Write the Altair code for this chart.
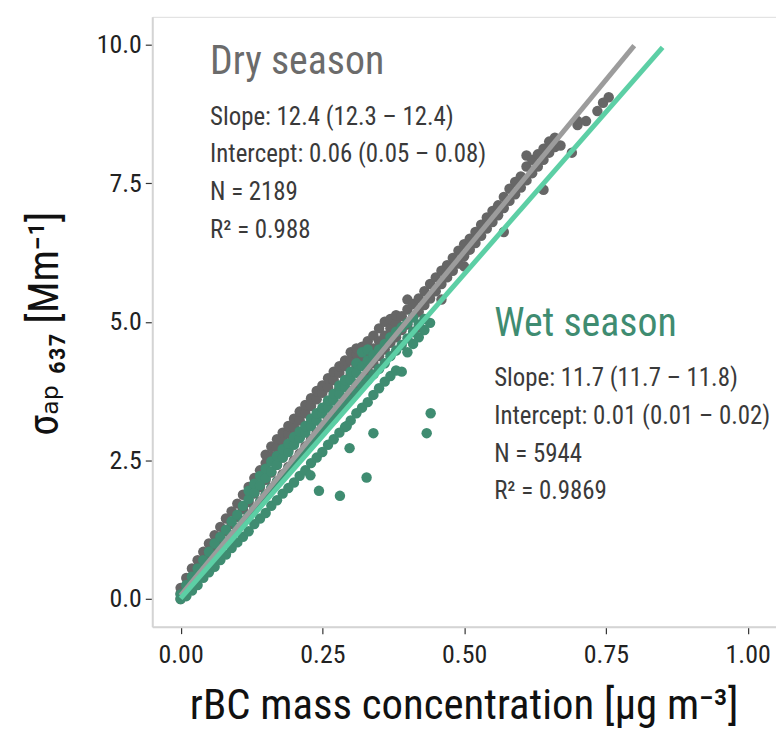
import altair as alt
import pandas as pd

# ---------------- data ----------------
# Dry season: x positions and the y values seen at each x
dry_x = [0.00, 0.01, 0.02, 0.03, 0.04, 0.05, 0.06, 0.07, 0.08, 0.09,
         0.10, 0.11, 0.12, 0.13, 0.14, 0.15, 0.16, 0.17, 0.18, 0.19,
         0.20, 0.21, 0.22, 0.23, 0.24, 0.25, 0.26, 0.27, 0.28, 0.29,
         0.30, 0.31, 0.32, 0.33, 0.34, 0.35, 0.36, 0.37, 0.38, 0.39,
         0.40, 0.41, 0.42, 0.43, 0.44, 0.45, 0.46, 0.47, 0.48, 0.49,
         0.50, 0.51, 0.52, 0.53, 0.54, 0.55, 0.56, 0.57, 0.58, 0.59,
         0.60, 0.61, 0.62, 0.63, 0.64, 0.65, 0.66, 0.67, 0.69, 0.70,
         0.715, 0.735, 0.745, 0.755]
dry_y = [[0.00, 0.10, 0.20], [0.12, 0.25, 0.38], [0.25, 0.40, 0.55], [0.38, 0.55, 0.70],
         [0.50, 0.68, 0.85], [0.62, 0.82, 1.00], [0.75, 0.95, 1.15], [0.88, 1.08, 1.30],
         [1.00, 1.22, 1.45], [1.12, 1.35, 1.58], [1.25, 1.48, 1.72], [1.38, 1.62, 1.88],
         [1.50, 1.75, 2.02], [1.62, 1.90, 2.18], [1.75, 2.02, 2.32], [1.88, 2.15, 2.45, 2.60],
         [2.00, 2.28, 2.58, 2.75], [2.12, 2.42, 2.72, 2.88], [2.25, 2.55, 2.85, 3.00],
         [2.38, 2.68, 2.98, 3.12], [2.50, 2.80, 3.10, 3.25], [2.62, 2.92, 3.22, 3.38],
         [2.75, 3.05, 3.35, 3.50], [2.88, 3.18, 3.48, 3.62], [3.00, 3.30, 3.60, 3.75],
         [3.12, 3.42, 3.72, 3.85], [3.25, 3.55, 3.82, 3.98], [3.38, 3.68, 3.95, 4.10],
         [3.50, 3.80, 4.08, 4.20], [3.62, 3.92, 4.20, 4.30], [3.75, 4.05, 4.30, 4.45],
         [3.88, 4.18, 4.42, 4.52], [4.00, 4.28, 4.55], [4.12, 4.40, 4.65], [4.25, 4.52, 4.75],
         [4.38, 4.65, 4.88], [4.50, 4.75, 5.00], [4.62, 4.88, 5.05], [4.72, 4.98, 5.12],
         [4.85, 5.10], [4.95, 5.22, 5.40], [5.08, 5.32], [5.18, 5.42, 4.90], [5.30, 5.55],
         [5.42, 5.68], [5.55, 5.80], [5.68, 5.92, 5.40], [5.80, 6.02], [5.92, 6.15],
         [6.05, 6.28], [6.18, 6.40, 6.00], [6.30, 6.50], [6.42, 6.62], [6.55, 6.75],
         [6.68, 6.88], [6.80, 7.00], [6.92, 7.10], [7.05, 7.25, 6.62], [7.18, 7.40],
         [7.30, 7.52], [7.42, 7.62], [7.55, 7.80, 8.00], [7.68, 7.92], [7.80, 8.02],
         [7.92, 8.12, 7.38], [8.05, 8.25], [8.15, 8.32], [8.18], [8.05], [8.55, 8.62],
         [8.62], [8.80], [8.95], [9.05]]

# Wet season: x positions and the y values seen at each x
wet_x = [0.00, 0.01, 0.02, 0.03, 0.04, 0.05, 0.06, 0.07, 0.08, 0.09,
         0.10, 0.11, 0.12, 0.13, 0.14, 0.15, 0.16, 0.17, 0.18, 0.19,
         0.20, 0.21, 0.22, 0.23, 0.24, 0.25, 0.26, 0.27, 0.28, 0.29,
         0.30, 0.31, 0.32, 0.33, 0.34, 0.35, 0.36, 0.37, 0.38, 0.39,
         0.40, 0.41, 0.42, 0.43, 0.44]
wet_y = [[0.00, 0.08], [0.05, 0.15, 0.25], [0.15, 0.28, 0.40], [0.25, 0.40, 0.55],
         [0.38, 0.52, 0.70], [0.48, 0.65, 0.85], [0.58, 0.78, 1.00], [0.70, 0.90, 1.12],
         [0.80, 1.02, 1.25], [0.92, 1.15, 1.40], [1.02, 1.28, 1.52], [1.12, 1.40, 1.68],
         [1.22, 1.50, 1.80, 1.95], [1.35, 1.62, 1.92, 2.08], [1.45, 1.75, 2.05, 2.22],
         [1.55, 1.88, 2.18, 2.35], [1.68, 2.00, 2.30, 2.48], [1.78, 2.12, 2.42, 2.58],
         [1.90, 2.22, 2.55, 2.70], [2.00, 2.35, 2.65, 2.80], [2.10, 2.45, 2.78, 2.92],
         [2.22, 2.58, 2.90, 3.02], [2.32, 2.70, 3.00, 3.12], [2.45, 2.80, 3.12, 3.25],
         [2.55, 2.92, 3.22, 3.35], [2.65, 3.02, 3.35, 3.45], [2.78, 3.15, 3.45, 3.58],
         [2.88, 3.25, 3.58, 3.70], [3.00, 3.38, 3.70, 3.85], [3.10, 3.50, 3.82, 3.95],
         [3.22, 3.60, 3.95, 4.10], [3.35, 3.72, 4.08, 4.25], [3.45, 3.85, 4.20, 4.45],
         [3.55, 3.95, 4.30, 4.50], [3.68, 4.05, 4.40], [3.80, 4.15, 4.50], [3.92, 4.25, 4.60],
         [4.02, 4.38, 4.72], [4.12, 4.48, 4.82], [4.10, 4.58, 4.90], [4.45, 4.70, 4.98],
         [4.60, 4.82, 5.08], [4.72, 4.95], [4.85, 5.05], [4.98]]
# isolated wet-season points below the band
wet_out_x = [0.441, 0.434, 0.340, 0.298, 0.328, 0.281, 0.244, 0.293, 0.229]
wet_out_y = [3.35, 2.99, 2.99, 2.72, 2.19, 1.86, 1.95, 3.12, 2.23]

# fitted lines, drawn between their end points
dry_line_x = [0.0, 0.80]
dry_line_y = [0.06, 9.98]
wet_line_x = [0.0, 0.85]
wet_line_y = [0.01, 9.95]

dry_title = "Dry season"
dry_stats = ["Slope: 12.4 (12.3 \u2013 12.4)", "Intercept: 0.06 (0.05 \u2013 0.08)",
             "N = 2189", "R\u00b2 = 0.988"]
wet_title = "Wet season"
wet_stats = ["Slope: 11.7 (11.7 \u2013 11.8)", "Intercept: 0.01 (0.01 \u2013 0.02)",
             "N = 5944", "R\u00b2 = 0.9869"]

x_ticks = [0.0, 0.25, 0.5, 0.75, 1.0]
y_ticks = [0.0, 2.5, 5.0, 7.5, 10.0]

# ---------------- build tables ----------------
def explode(xs, yss):
    rx, ry = [], []
    for x, ys in zip(xs, yss):
        for y in ys:
            rx.append(x)
            ry.append(y)
    return rx, ry

dx, dy = explode(dry_x, dry_y)
wx, wy = explode(wet_x, wet_y)
dry_df = pd.DataFrame({"x": dx, "y": dy})
wet_df = pd.DataFrame({"x": wx + wet_out_x, "y": wy + wet_out_y})
dry_line_df = pd.DataFrame({"x": dry_line_x, "y": dry_line_y})
wet_line_df = pd.DataFrame({"x": wet_line_x, "y": wet_line_y})

dry_title_df = pd.DataFrame({"x": [0.052], "y": [9.68], "t": [dry_title]})
wet_title_df = pd.DataFrame({"x": [0.553], "y": [4.95], "t": [wet_title]})
dry_stats_df = pd.DataFrame({"x": [0.052] * 4, "y": [8.70, 8.02, 7.34, 6.66], "t": dry_stats})
wet_stats_df = pd.DataFrame({"x": [0.553] * 4, "y": [3.98, 3.30, 2.62, 1.94], "t": wet_stats})

FONT = "'Roboto Condensed', 'Liberation Sans Narrow', 'DejaVu Sans Condensed', Roboto, sans-serif"

xs = alt.Scale(domain=[-0.05, 1.05], nice=False, zero=False)
ys = alt.Scale(domain=[-0.5, 10.5], nice=False, zero=False)

x_enc = alt.X("x:Q", scale=xs, axis=alt.Axis(
    values=x_ticks, format=".2f",
    title="rBC mass concentration [\u03bcg m\u207b\u00b3]",
    titleFont=FONT, titleFontSize=43, titleFontWeight="normal", titleColor="#111",
    titleX=313, titleY=92, titleBaseline="alphabetic", titleAlign="center",
    labelFont=FONT, labelFontSize=26, labelColor="#222", labelPadding=8,
    tickColor="#333", tickSize=7, tickWidth=1.2,
    domainColor="#d4d4d4", domainWidth=2, grid=False,
))
y_enc = alt.Y("y:Q", scale=ys, axis=alt.Axis(
    values=y_ticks, format=".1f",
    title="\u03c3\u2090\u209a \u2086\u2083\u2087 [Mm\u207b\u00b9]",
    titleFont=FONT, titleFontSize=42, titleFontWeight="normal", titleColor="#111",
    titleAngle=270, titleX=-108, titleY=308, titleBaseline="middle", titleAlign="center",
    labelFont=FONT, labelFontSize=26, labelColor="#222", labelPadding=4,
    tickColor="#333", tickSize=7, tickWidth=1.2,
    domainColor="#d4d4d4", domainWidth=2, grid=False,
))

dry_pts = alt.Chart(dry_df).mark_circle(size=110, opacity=1, color="#666666").encode(x=x_enc, y=y_enc)
wet_pts = alt.Chart(wet_df).mark_circle(size=110, opacity=1, color="#3f8c71").encode(x="x:Q", y="y:Q")
dry_ln = alt.Chart(dry_line_df).mark_line(color="#9c9c9c", strokeWidth=5).encode(x="x:Q", y="y:Q")
wet_ln = alt.Chart(wet_line_df).mark_line(color="#5ccfa5", strokeWidth=5).encode(x="x:Q", y="y:Q")

def txt(df, size, color):
    return alt.Chart(df).mark_text(align="left", baseline="middle", font=FONT,
                                   fontSize=size, color=color).encode(x="x:Q", y="y:Q", text="t:N")

chart = alt.layer(
    dry_pts, wet_pts, dry_ln, wet_ln,
    txt(dry_title_df, 40, "#6b6b6b"), txt(dry_stats_df, 25, "#3a3a3a"),
    txt(wet_title_df, 40, "#3f8c71"), txt(wet_stats_df, 25, "#3a3a3a"),
).properties(
    width=627, height=613,
    autosize=alt.AutoSizeParams(type="none"),
    padding={"left": 145, "top": 7, "right": 0, "bottom": 105},
).configure_view(stroke=None).configure(background="white")

chart.save("out.html", embed_options={"renderer": "svg", "actions": False})
